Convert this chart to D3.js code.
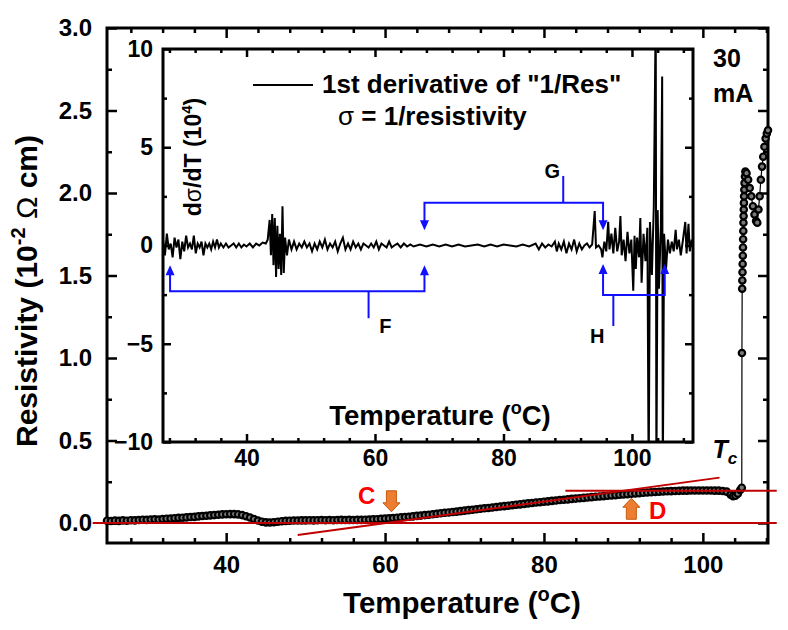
<!DOCTYPE html>
<html>
<head>
<meta charset="utf-8">
<script src="https://cdn.jsdelivr.net/npm/d3@7"></script>
<style>
body { margin: 0; background: #fff; }
text { font-family: "Liberation Sans", Arial, sans-serif; font-weight: bold; fill: #000; }
</style>
</head>
<body>
<script>
// Resistivity vs temperature (main plot), 10^-2 ohm cm
const resTemp = [25.0,25.5,26.0,26.5,27.0,27.5,28.0,28.5,29.0,29.5,30.0,30.5,31.0,31.5,32.0,32.5,33.0,33.5,34.0,34.5,
  35.0,35.5,36.0,36.5,37.0,37.5,38.0,38.5,39.0,39.5,40.0,40.5,41.0,41.5,42.0,42.5,43.0,43.5,44.0,44.5,
  45.0,45.5,46.0,46.5,47.0,47.5,48.0,48.5,49.0,49.5,50.0,50.5,51.0,51.5,52.0,52.5,53.0,53.5,54.0,54.5,
  55.0,55.5,56.0,56.5,57.0,57.5,58.0,58.5,59.0,59.5,60.0,60.5,61.0,61.5,62.0,62.5,63.0,63.5,64.0,64.5,
  65.0,65.5,66.0,66.5,67.0,67.5,68.0,68.5,69.0,69.5,70.0,70.5,71.0,71.5,72.0,72.5,73.0,73.5,74.0,74.5,
  75.0,75.5,76.0,76.5,77.0,77.5,78.0,78.5,79.0,79.5,80.0,80.5,81.0,81.5,82.0,82.5,83.0,83.5,84.0,84.5,
  85.0,85.5,86.0,86.5,87.0,87.5,88.0,88.5,89.0,89.5,90.0,90.5,91.0,91.5,92.0,92.5,93.0,93.5,94.0,94.5,
  95.0,95.5,96.0,96.5,97.0,97.5,98.0,98.5,99.0,99.5,100.0,100.5,101.0,101.5,102.0,102.5,103.0,103.5,103.8,104.1,
  104.4,104.7,104.9,104.92,104.95,104.97,104.99,105.01,105.03,105.05,105.07,105.09,105.11,105.13,105.15,105.17,105.19,105.22,105.25,105.3,
  105.35,105.5,105.7,105.9,106.1,106.3,106.5,106.7,106.85,107.0,107.15,107.3,107.45,107.6,107.75,107.9,108.05,108.2];
const resVal = [0.014,0.012,0.015,0.013,0.016,0.014,0.017,0.016,0.018,0.020,0.019,0.021,0.022,0.021,0.024,0.026,0.027,0.029,0.031,0.032,
  0.034,0.036,0.037,0.040,0.042,0.044,0.046,0.048,0.050,0.052,0.053,0.054,0.054,0.052,0.048,0.041,0.033,0.024,0.015,0.008,
  0.004,0.003,0.005,0.008,0.011,0.013,0.014,0.015,0.015,0.016,0.016,0.017,0.016,0.017,0.018,0.017,0.018,0.017,0.018,0.019,
  0.018,0.019,0.018,0.019,0.019,0.020,0.021,0.022,0.023,0.025,0.027,0.028,0.030,0.032,0.034,0.036,0.038,0.040,0.043,0.045,
  0.048,0.050,0.053,0.056,0.059,0.062,0.064,0.067,0.069,0.072,0.075,0.078,0.080,0.083,0.086,0.089,0.091,0.094,0.097,0.100,
  0.102,0.105,0.108,0.111,0.113,0.116,0.119,0.121,0.124,0.126,0.129,0.131,0.134,0.136,0.139,0.141,0.143,0.146,0.148,0.150,
  0.152,0.155,0.157,0.159,0.161,0.163,0.165,0.167,0.169,0.171,0.173,0.175,0.177,0.179,0.181,0.183,0.185,0.186,0.188,0.189,
  0.191,0.192,0.193,0.194,0.195,0.196,0.196,0.197,0.197,0.197,0.197,0.197,0.197,0.196,0.196,0.194,0.190,0.172,0.162,0.165,
  0.178,0.200,0.214,1.03,1.42,1.47,1.52,1.57,1.62,1.67,1.72,1.77,1.82,1.86,1.90,1.94,1.98,2.02,2.06,2.10,
  2.13,2.12,2.08,2.03,1.98,1.92,1.87,1.83,1.82,1.90,1.98,2.08,2.16,2.22,2.28,2.33,2.36,2.38];

// First derivative of 1/Res (inset), 10^4
const derTemp = [27.0,27.3,27.6,27.9,28.2,28.5,28.8,29.1,29.4,29.7,30.0,30.3,30.6,30.9,31.2,31.5,31.8,32.1,32.4,32.7,
  33.0,33.3,33.6,33.9,34.2,34.5,34.8,35.1,35.4,35.7,36.0,36.4,36.8,37.2,37.6,38.0,38.4,38.8,39.2,39.6,
  40.0,40.5,41.0,41.5,42.0,42.5,43.0,43.3,43.6,43.8,44.0,44.2,44.4,44.6,44.8,45.0,45.2,45.4,45.6,45.8,
  46.0,46.3,46.6,47.0,47.4,47.8,48.2,48.6,49.0,49.4,49.8,50.2,50.6,51.0,51.4,51.8,52.2,52.6,53.0,53.4,
  53.8,54.2,54.6,55.0,55.4,55.8,56.2,56.6,57.0,57.4,57.8,58.2,58.6,59.0,59.4,59.8,60.2,60.6,61.0,61.4,
  61.8,62.2,62.6,63.0,63.5,64.0,64.5,65.0,65.5,66.0,67,68,69,70,71,72,73,74,75,76,
  77,78,79,80,81,82,83,84,85,85.5,86,86.5,87,87.5,88,88.3,88.6,89,89.4,89.8,
  90.2,90.6,91,91.4,91.8,92.2,92.6,93,93.4,93.8,94.2,94.4,94.8,95.2,95.4,95.7,96.0,96.3,96.5,96.8,
  97.1,97.4,97.7,98.0,98.2,98.4,98.7,99.0,99.3,99.6,99.9,100.2,100.4,100.6,100.8,101.1,101.3,101.5,101.8,102.1,
  102.4,102.6,102.8,103.1,103.4,103.7,103.8,104.0,104.2,104.5,104.7,104.8,105.0,105.3,105.6,105.9,106.2,106.5,106.8,107.0,
  107.3,107.6,107.9,108.3,108.5,108.8,109.0,109.3,109.5];
const derVal = [0.3,-0.5,0.6,-0.2,0.1,-0.6,0.4,-0.1,0.3,-0.7,0.2,-0.3,0.5,-0.1,0.1,-0.2,0.5,-0.4,0.1,-0.1,
  0.2,-0.5,0.1,-0.1,0.1,-0.2,0.2,-0.1,0.3,-0.1,0.1,-0.1,0.1,-0.1,0.0,0.1,-0.1,0.1,-0.1,0.05,
  -0.05,0.1,-0.1,0.1,0.0,0.15,0.1,0.3,1.3,-0.5,1.6,-1.0,1.4,-1.6,1.0,-1.2,0.6,-1.5,2.0,-1.4,
  0.4,-0.5,0.3,-0.2,0.2,-0.2,0.1,-0.1,0.2,-0.1,0.1,-0.3,0.1,-0.2,0.2,-0.1,0.3,-0.2,0.1,-0.1,
  0.2,-0.3,0.1,0.4,-0.2,0.1,-0.2,0.2,-0.1,0.1,-0.2,0.1,0.0,-0.1,0.1,-0.1,0.2,-0.2,0.1,0.0,
  -0.1,0.2,-0.1,0.0,0.1,-0.1,0.1,-0.05,0.05,-0.05,0.05,-0.05,0.05,-0.05,0.05,-0.05,0.05,-0.05,0.0,0.05,
  -0.05,0.05,-0.05,0.05,0.0,-0.05,0.05,-0.05,0.1,-0.2,0.1,-0.1,0.05,-0.05,0.2,-0.3,0.1,-0.2,0.2,-0.4,
  0.1,-0.2,0.3,-0.3,0.1,-0.2,0.0,0.1,-0.1,0.05,1.75,-0.1,0.0,-0.2,-0.6,0.2,-0.3,1.2,-0.2,0.6,
  -0.4,0.9,-0.3,0.2,1.5,-0.5,0.3,-0.8,0.7,-0.4,0.3,-2.3,0.5,-1.2,0.4,-0.6,1.4,-1.9,0.6,-0.8,
  0.9,-12,1.2,-1.5,2.0,12,-12,1.8,-2.2,1.0,8.6,-12,0.6,-1.2,0.3,-0.4,0.2,-0.3,0.8,-0.2,
  0.3,-0.5,0.2,1.2,-0.4,1.1,-0.3,0.3,0.0];

const mainXTicks = [40, 60, 80, 100];
const mainXMinor = [28, 32, 36, 44, 48, 52, 56, 64, 68, 72, 76, 84, 88, 92, 96, 104, 108];
const mainYTicks = [0, 0.5, 1.0, 1.5, 2.0, 2.5, 3.0];
const mainYMinor = [0.25, 0.75, 1.25, 1.75, 2.25, 2.75];
const insetXTicks = [40, 60, 80, 100];
const insetXMinor = [28, 32, 36, 44, 48, 52, 56, 64, 68, 72, 76, 84, 88, 92, 96, 104, 108];
const insetYTicks = [-10, -5, 0, 5, 10];
const insetYMinor = [-7.5, -2.5, 2.5, 7.5];

// red guide lines: [T1, R1, T2, R2]
const redLines = [[23.2, 0, 109.3, 0], [82.7, 0.196, 109.3, 0.196], [49, -0.073, 102.1, 0.275]];
// blue brackets in inset units: label, left T, right T, bar value, tip value, stem T, stem end, label T, label value
const brackets = [
  ['F', 28.1, 67.7, -2.33, -1.0, 59.0, -3.7, 61.6, -4.45],
  ['G', 67.7, 95.5, 2.18, 0.78, 89.3, 3.54, 87.6, 3.42],
  ['H', 95.5, 105.1, -2.52, -0.94, 97.1, -4.1, 94.6, -4.95]
];

const W = 788, H = 630;
const svg = d3.select('body').append('svg').attr('width', W).attr('height', H);

const x = d3.scaleLinear().domain([25, 108.2]).range([107, 768]);
const y = d3.scaleLinear().domain([-0.1212, 3.0]).range([543, 28]);
const xi = d3.scaleLinear().domain([27, 109.5]).range([163, 693]);
const yi = d3.scaleLinear().domain([-10, 10]).range([442, 49]);

// draw a boxed frame with inward ticks on all four sides
function frame(sx, sy, o) {
    const [x0, x1] = sx.range();
    const [y0, y1] = sy.range(); // y0 bottom, y1 top
    const g = svg.append('g');
    g.append('rect').attr('x', x0).attr('y', y1).attr('width', x1 - x0).attr('height', y0 - y1)
        .attr('fill', o.fill).attr('stroke', '#000').attr('stroke-width', 3);

    const ax = [
        [d3.axisBottom(sx).tickValues(o.xt).tickSize(-o.major).tickPadding(o.xpad).tickFormat(d3.format('d')), `translate(0,${y0})`, true],
        [d3.axisBottom(sx).tickValues(o.xm).tickSize(-o.minor).tickFormat(''), `translate(0,${y0})`, false],
        [d3.axisTop(sx).tickValues(o.xt).tickSize(-o.major).tickFormat(''), `translate(0,${y1})`, false],
        [d3.axisTop(sx).tickValues(o.xm).tickSize(-o.minor).tickFormat(''), `translate(0,${y1})`, false],
        [d3.axisLeft(sy).tickValues(o.yt).tickSize(-o.major).tickPadding(o.ypad).tickFormat(o.yfmt), `translate(${x0},0)`, true],
        [d3.axisLeft(sy).tickValues(o.ym).tickSize(-o.minor).tickFormat(''), `translate(${x0},0)`, false],
        [d3.axisRight(sy).tickValues(o.yt).tickSize(-o.major).tickFormat(''), `translate(${x1},0)`, false],
        [d3.axisRight(sy).tickValues(o.ym).tickSize(-o.minor).tickFormat(''), `translate(${x1},0)`, false]
    ];
    ax.forEach(([a, tr, lab]) => {
        const ag = g.append('g').attr('transform', tr).call(a);
        ag.select('.domain').remove();
        ag.selectAll('line').attr('stroke', '#000').attr('stroke-width', 2.5);
        ag.attr('font-family', null).attr('font-size', null);
        if (lab) ag.selectAll('text').style('font-size', o.fs + 'px').attr('fill', '#000');
    });
    return g;
}

frame(x, y, { fill: 'none', xt: mainXTicks, xm: mainXMinor, yt: mainYTicks, ym: mainYMinor,
    major: 10, minor: 5, xpad: 13, ypad: 15, fs: 24, yfmt: d3.format('.1f') });

// main resistivity curve
const resPts = resTemp.map((t, i) => [t, resVal[i]]);
svg.append('path')
    .attr('d', d3.line().x(d => x(d[0])).y(d => y(d[1]))(resPts))
    .attr('fill', 'none').attr('stroke', '#000').attr('stroke-width', 1.2);
svg.append('g').selectAll('circle').data(resPts).enter().append('circle')
    .attr('cx', d => x(d[0])).attr('cy', d => y(d[1])).attr('r', 3.2)
    .attr('fill', '#7a7a7a').attr('stroke', '#000').attr('stroke-width', 2.2);

// red guide lines
redLines.forEach(l => {
    svg.append('line')
        .attr('x1', x(l[0])).attr('y1', y(l[1])).attr('x2', x(l[2])).attr('y2', y(l[3]))
        .attr('stroke', '#c00000').attr('stroke-width', 2);
});

// inset
frame(xi, yi, { fill: '#fff', xt: insetXTicks, xm: insetXMinor, yt: insetYTicks, ym: insetYMinor,
    major: 8, minor: 4, xpad: 8, ypad: 10, fs: 23, yfmt: d3.format('d') });

svg.append('clipPath').attr('id', 'insetClip').append('rect')
    .attr('x', 164).attr('y', 50).attr('width', 528).attr('height', 391);

const derPts = derTemp.map((t, i) => [t, derVal[i]]);
svg.append('path')
    .attr('clip-path', 'url(#insetClip)')
    .attr('d', d3.line().x(d => xi(d[0])).y(d => yi(d[1]))(derPts))
    .attr('fill', 'none').attr('stroke', '#000').attr('stroke-width', 2)
    .attr('stroke-linejoin', 'miter');

// blue brackets
const blue = '#1010ff';
function blueHead(px, py, up) {
    const s = up ? 1 : -1;
    svg.append('path')
        .attr('d', `M${px},${py} L${px - 4.5},${py + s * 10} L${px + 4.5},${py + s * 10} Z`)
        .attr('fill', blue);
}
brackets.forEach(b => {
    const [lab, t1, t2, bar, tip, st, se, lt, lv] = b;
    const up = tip > bar;
    const yb = yi(bar), yt = yi(tip);
    svg.append('path')
        .attr('d', `M${xi(t1)},${yt + (up ? 8 : -8)} L${xi(t1)},${yb} L${xi(t2)},${yb} L${xi(t2)},${yt + (up ? 8 : -8)}`)
        .attr('fill', 'none').attr('stroke', blue).attr('stroke-width', 2);
    blueHead(xi(t1), yt, up);
    blueHead(xi(t2), yt, up);
    svg.append('line').attr('x1', xi(st)).attr('x2', xi(st)).attr('y1', yb).attr('y2', yi(se))
        .attr('stroke', blue).attr('stroke-width', 2);
    svg.append('text').attr('x', xi(lt)).attr('y', yi(lv)).attr('text-anchor', 'middle')
        .style('font-size', '20px').text(lab);
});

// inset legend
svg.append('line').attr('x1', 253).attr('x2', 313).attr('y1', 85).attr('y2', 85)
    .attr('stroke', '#000').attr('stroke-width', 2);
svg.append('text').attr('x', 322).attr('y', 93).style('font-size', '26px')
    .text('1st derivative of "1/Res"');
const sig = svg.append('text').attr('x', 338).attr('y', 125).style('font-size', '26px');
sig.append('tspan').style('font-weight', 'normal').text('\u03c3');
sig.append('tspan').text(' = 1/resistivity');

// inset axis titles
const iyt = svg.append('text').attr('transform', 'translate(201,157) rotate(-90)')
    .attr('text-anchor', 'middle').style('font-size', '23px');
iyt.append('tspan').text('d');
iyt.append('tspan').style('font-weight', 'normal').text('\u03c3');
iyt.append('tspan').text('/dT (10');
iyt.append('tspan').attr('dy', -9).style('font-size', '15px').text('4');
iyt.append('tspan').attr('dy', 9).text(')');

const ixt = svg.append('text').attr('x', 440).attr('y', 425).attr('text-anchor', 'middle')
    .style('font-size', '27.5px');
ixt.append('tspan').text('Temperature (');
ixt.append('tspan').attr('dy', -11).style('font-size', '18px').text('o');
ixt.append('tspan').attr('dy', 11).text('C)');

// main axis titles
const myt = svg.append('text').attr('transform', 'translate(37,291) rotate(-90)')
    .attr('text-anchor', 'middle').style('font-size', '30px');
myt.append('tspan').text('Resistivity (10');
myt.append('tspan').attr('dy', -12).style('font-size', '20px').text('-2');
myt.append('tspan').attr('dy', 12).text(' ');
myt.append('tspan').style('font-weight', 'normal').text('\u03a9');
myt.append('tspan').text(' cm)');

const mxt = svg.append('text').attr('x', 462).attr('y', 613).attr('text-anchor', 'middle')
    .style('font-size', '29.5px');
mxt.append('tspan').text('Temperature (');
mxt.append('tspan').attr('dy', -12).style('font-size', '20px').text('o');
mxt.append('tspan').attr('dy', 12).text('C)');

// current label
svg.append('text').attr('x', 713).attr('y', 67).style('font-size', '25px').text('30');
svg.append('text').attr('x', 713).attr('y', 102).style('font-size', '25px').text('mA');

// Tc label
const tc = svg.append('text').attr('x', x(101.2)).attr('y', y(0.394)).style('font-size', '25px')
    .style('font-style', 'italic');
tc.append('tspan').text('T');
tc.append('tspan').attr('dy', 6).style('font-size', '17px').text('c');

// orange block arrows and C / D labels
function blockArrow(t, r, up) {
    const px = x(t), py = y(r), s = up ? 1 : -1;
    const pts = [[0, 0], [8.5, 9], [5, 9], [5, 21], [-5, 21], [-5, 9], [-8.5, 9]]
        .map(p => [px + p[0], py + s * p[1]]);
    svg.append('path').attr('d', 'M' + pts.join('L') + 'Z')
        .attr('fill', '#ed7d31').attr('stroke', '#c55a11').attr('stroke-width', 1);
}
blockArrow(60.8, 0.068, false);
blockArrow(91.0, 0.15, true);
svg.append('text').attr('x', x(57.7)).attr('y', y(0.115)).attr('text-anchor', 'middle')
    .style('font-size', '24px').style('fill', '#ff0000').text('C');
svg.append('text').attr('x', x(94.3)).attr('y', y(0.022)).attr('text-anchor', 'middle')
    .style('font-size', '24px').style('fill', '#ff0000').text('D');
</script>
</body>
</html>
